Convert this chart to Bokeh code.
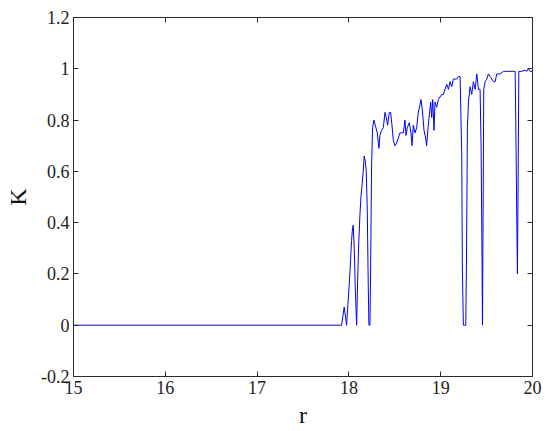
from bokeh.plotting import figure
from bokeh.models import Range1d, FixedTicker, LinearAxis
from bokeh.embed import file_html
from bokeh.resources import INLINE

# ---- data ----
r_vals = [15.0, 17.92, 17.949, 17.964, 17.975, 17.989, 18.004, 18.018, 18.029, 18.04,
          18.047, 18.058, 18.069, 18.084, 18.095, 18.105, 18.12, 18.131, 18.142, 18.156,
          18.167, 18.178, 18.189, 18.2, 18.211, 18.218, 18.229, 18.236, 18.247, 18.258,
          18.273, 18.287, 18.309, 18.327, 18.338, 18.356, 18.375, 18.393, 18.407, 18.422,
          18.44, 18.455, 18.469, 18.484, 18.502, 18.52, 18.538, 18.556, 18.575, 18.593,
          18.611, 18.622, 18.636, 18.658, 18.676, 18.687, 18.702, 18.72, 18.738, 18.756,
          18.775, 18.785, 18.8, 18.818, 18.836, 18.847, 18.862, 18.876, 18.891, 18.902,
          18.913, 18.927, 18.938, 18.956, 18.975, 18.993, 19.011, 19.029, 19.047, 19.065,
          19.084, 19.102, 19.12, 19.138, 19.156, 19.175, 19.193, 19.211, 19.229, 19.236,
          19.247, 19.273, 19.28, 19.291, 19.302, 19.32, 19.338, 19.356, 19.375, 19.393,
          19.411, 19.429, 19.44, 19.451, 19.455, 19.462, 19.469, 19.484, 19.502, 19.52,
          19.538, 19.556, 19.575, 19.593, 19.611, 19.647, 19.684, 19.72, 19.756, 19.793,
          19.811, 19.818, 19.829, 19.836, 19.844, 19.851, 19.884, 19.92, 19.938, 19.956,
          19.975, 20.0]
k_vals = [0.0, 0.0, 0.071, 0.03, 0.0, 0.08, 0.16, 0.25, 0.33, 0.38,
          0.39, 0.30, 0.15, 0.0, 0.17, 0.30, 0.43, 0.50, 0.54, 0.60,
          0.66, 0.64, 0.60, 0.45, 0.15, 0.0, 0.0, 0.20, 0.62, 0.77,
          0.80, 0.78, 0.75, 0.69, 0.74, 0.76, 0.77, 0.83, 0.81, 0.78,
          0.83, 0.83, 0.78, 0.72, 0.70, 0.71, 0.73, 0.75, 0.75, 0.75,
          0.80, 0.74, 0.77, 0.79, 0.75, 0.70, 0.78, 0.75, 0.77, 0.83,
          0.86, 0.88, 0.84, 0.76, 0.73, 0.70, 0.77, 0.82, 0.87, 0.81,
          0.88, 0.76, 0.87, 0.85, 0.88, 0.89, 0.90, 0.90, 0.92, 0.94,
          0.92, 0.95, 0.93, 0.96, 0.96, 0.96, 0.97, 0.97, 0.67, 0.22,
          0.0, 0.0, 0.22, 0.77, 0.87, 0.93, 0.90, 0.95, 0.92, 0.98,
          0.92, 0.92, 0.70, 0.22, 0.0, 0.46, 0.92, 0.95, 0.96, 0.98,
          0.97, 0.96, 0.95, 0.95, 0.98, 0.98, 0.99, 0.99, 0.99, 0.99,
          0.99, 0.79, 0.41, 0.20, 0.60, 0.99, 0.99, 0.995, 0.99, 1.0,
          0.99, 0.99]

x_ticks = [15, 16, 17, 18, 19, 20]
x_tick_labels = ["15", "16", "17", "18", "19", "20"]
y_ticks = [-0.2, 0.0, 0.2, 0.4, 0.6, 0.8, 1.0, 1.2]
y_tick_labels = ["-0.2", "0", "0.2", "0.4", "0.6", "0.8", "1", "1.2"]
x_label = "r"
y_label = "K"

FONT = "Liberation Serif"
AXC = "#2b2b2b"

p = figure(frame_width=459, frame_height=359,
           min_border_left=73, min_border_right=17, min_border_top=17, min_border_bottom=55,
           x_range=Range1d(15, 20), y_range=Range1d(-0.2, 1.2),
           output_backend="svg", toolbar_location=None, x_axis_location=None,
           y_axis_location=None)
p.grid.visible = False
p.outline_line_color = AXC
p.background_fill_color = "white"
p.border_fill_color = "white"

def make_axis(ticks, labels, show_labels, title=None, title_standoff=0):
    ax = LinearAxis(ticker=FixedTicker(ticks=ticks))
    if show_labels:
        ax.major_label_overrides = {t: l for t, l in zip(ticks, labels)}
    else:
        ax.major_label_overrides = {t: "" for t in ticks}
    ax.major_tick_in = 5
    ax.major_tick_out = 0
    ax.minor_tick_line_color = None
    ax.axis_line_color = AXC
    ax.major_tick_line_color = AXC
    ax.major_label_text_font = FONT
    ax.major_label_text_color = "#222222"
    ax.major_label_text_font_size = "18px"
    ax.major_label_standoff = 4 if show_labels else 0
    if title:
        ax.axis_label = title
        ax.axis_label_text_font = FONT
        ax.axis_label_text_font_size = "24px"
        ax.axis_label_text_font_style = "normal"
        ax.axis_label_text_color = "#111111"
        ax.axis_label_standoff = title_standoff
    return ax

p.add_layout(make_axis(x_ticks, x_tick_labels, True, x_label, 5), "below")
p.add_layout(make_axis(y_ticks, y_tick_labels, True, y_label, 7), "left")
p.add_layout(make_axis(x_ticks, x_tick_labels, False), "above")
p.add_layout(make_axis(y_ticks, y_tick_labels, False), "right")

p.line(r_vals, k_vals, line_color="#0000ff", line_width=1)

open("out.html", "w").write(file_html(p, INLINE))
